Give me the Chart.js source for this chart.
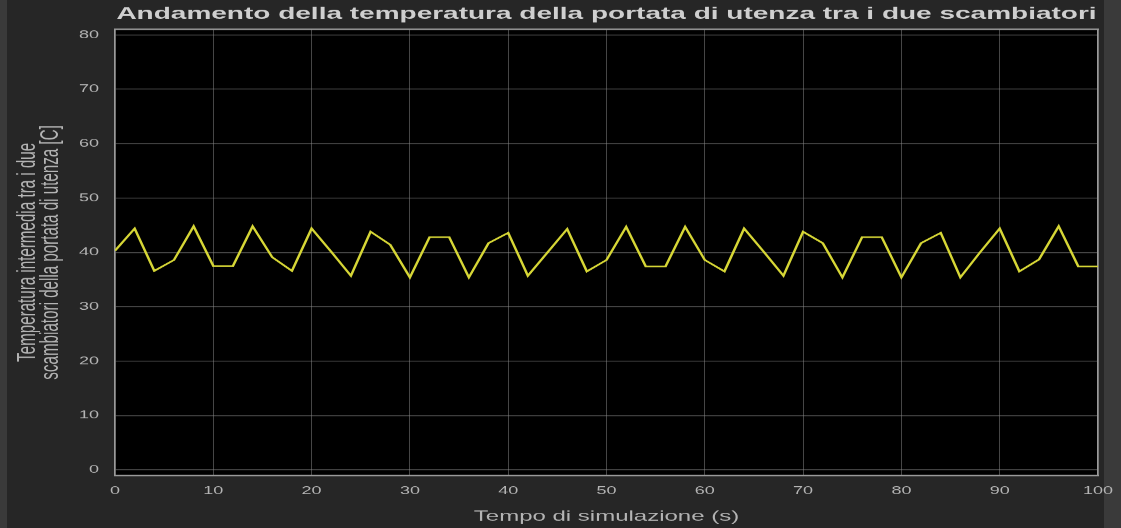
<!DOCTYPE html>
<html>
<head>
<meta charset="utf-8">
<title>Andamento della temperatura</title>
<script src="https://cdn.jsdelivr.net/npm/chart.js@4"></script>
<style>
  html, body { margin: 0; padding: 0; background: #262626; overflow: hidden; }
  #wrap { width: 1121px; height: 528px; position: relative; }
  /* the reference figure is squashed vertically, so the canvas is drawn taller and scaled down */
  #tempChart { width: 1121px; height: 528px; }
</style>
</head>
<body>
<div id="wrap"><canvas id="tempChart" width="1121" height="871" style="width:1121px;height:528px"></canvas></div>
<script>
// simulation time (s) and intermediate temperature (C)
const timeValues = [0, 2, 4, 6, 8, 10, 12, 14, 16, 18, 20, 22, 24, 26, 28, 30, 32, 34, 36, 38, 40,
  42, 44, 46, 48, 50, 52, 54, 56, 58, 60, 62, 64, 66, 68, 70, 72, 74, 76, 78, 80,
  82, 84, 86, 88, 90, 92, 94, 96, 98, 100];
const tempValues = [40.3, 44.4, 36.6, 38.6, 44.8, 37.5, 37.5, 44.8, 39.1, 36.6, 44.4, 40.1, 35.7, 43.8, 41.4, 35.4, 42.8, 42.8, 35.4, 41.7, 43.6,
  35.7, 40.0, 44.3, 36.5, 38.6, 44.7, 37.4, 37.4, 44.7, 38.6, 36.5, 44.4, 40.1, 35.7, 43.8, 41.7, 35.4, 42.8, 42.8, 35.4,
  41.7, 43.6, 35.4, 40.0, 44.4, 36.5, 38.7, 44.8, 37.4, 37.4];
const xTicks = [0, 10, 20, 30, 40, 50, 60, 70, 80, 90, 100];
const yTicks = [0, 10, 20, 30, 40, 50, 60, 70, 80];

const chartTitle = 'Andamento della temperatura della portata di utenza tra i due scambiatori';
const xTitle = 'Tempo di simulazione (s)';
const yTitle = ['Temperatura intermedia tra i due', 'scambiatori della portata di utenza [C]'];

const fontFamily = '"Liberation Sans", Arial, sans-serif';
const textColor = '#b4b4b4';
const gridColor = 'rgba(140,140,140,0.5)';
const frameColor = '#9a9a9a';

// paints the figure background and the black axes area
const backgroundPlugin = {
  id: 'background',
  beforeDraw(chart) {
    const { ctx, chartArea } = chart;
    ctx.save();
    ctx.fillStyle = '#262626';
    ctx.fillRect(0, 0, chart.width, chart.height);
    ctx.fillStyle = '#3a3a3a';
    ctx.fillRect(0, 0, 7, chart.height);
    ctx.fillRect(1104, 0, chart.width - 1104, chart.height);
    ctx.fillStyle = '#000000';
    ctx.fillRect(chartArea.left, chartArea.top, chartArea.right - chartArea.left, chartArea.bottom - chartArea.top);
    ctx.restore();
  }
};

const setTicks = (list) => (scale) => { scale.ticks = list.map(v => ({ value: v })); };

new Chart(document.getElementById('tempChart'), {
  type: 'line',
  data: {
    datasets: [{
      data: timeValues.map((t, i) => ({ x: t, y: tempValues[i] })),
      borderColor: '#d6d636',
      borderWidth: 2.6,
      pointRadius: 0,
      tension: 0,
      fill: false
    }]
  },
  options: {
    responsive: false,
    animation: false,
    devicePixelRatio: 1,
    layout: { padding: { top: 0, right: 23, bottom: 0, left: 0 } },
    plugins: {
      legend: { display: false },
      tooltip: { enabled: false },
      title: {
        display: true,
        fullSize: false,
        text: chartTitle,
        color: '#cfcfcf',
        font: { family: fontFamily, size: 28, weight: 'bold', lineHeight: 1.2 },
        padding: { top: 6, bottom: 9 }
      }
    },
    scales: {
      x: {
        type: 'linear',
        min: 0,
        max: 100,
        afterBuildTicks: setTicks(xTicks),
        afterFit: (scale) => { scale.height = 87; },
        grid: { color: gridColor, lineWidth: 1, drawTicks: true, tickLength: 12, tickColor: 'rgba(0,0,0,0)' },
        border: { color: frameColor, width: 2.4 },
        ticks: { color: textColor, font: { family: fontFamily, size: 18 }, padding: 3, maxRotation: 0 },
        title: {
          display: true,
          text: xTitle,
          color: textColor,
          font: { family: fontFamily, size: 24, lineHeight: 1.2 },
          padding: { top: 0, bottom: 4 }
        }
      },
      y: {
        type: 'linear',
        min: -1,
        max: 81,
        afterBuildTicks: setTicks(yTicks),
        afterFit: (scale) => { scale.width = 115; },
        grid: { color: gridColor, lineWidth: 1.6, drawTicks: false },
        border: { color: frameColor, width: 1.5 },
        ticks: { color: textColor, font: { family: fontFamily, size: 18 }, padding: 16 },
        title: {
          display: true,
          text: yTitle,
          color: textColor,
          font: { family: fontFamily, size: 25, lineHeight: 0.9 },
          padding: { top: 17, bottom: 0 }
        }
      },
      x2: {
        type: 'linear',
        position: 'top',
        min: 0,
        max: 100,
        afterBuildTicks: setTicks(xTicks),
        afterFit: (scale) => { scale.height = 0; },
        grid: { display: false },
        border: { color: frameColor, width: 2.4 },
        ticks: { display: false }
      },
      y2: {
        type: 'linear',
        position: 'right',
        min: -1,
        max: 81,
        afterBuildTicks: setTicks(yTicks),
        afterFit: (scale) => { scale.width = 0; },
        grid: { display: false },
        border: { color: frameColor, width: 1.5 },
        ticks: { display: false }
      }
    }
  },
  plugins: [backgroundPlugin]
});
</script>
</body>
</html>
